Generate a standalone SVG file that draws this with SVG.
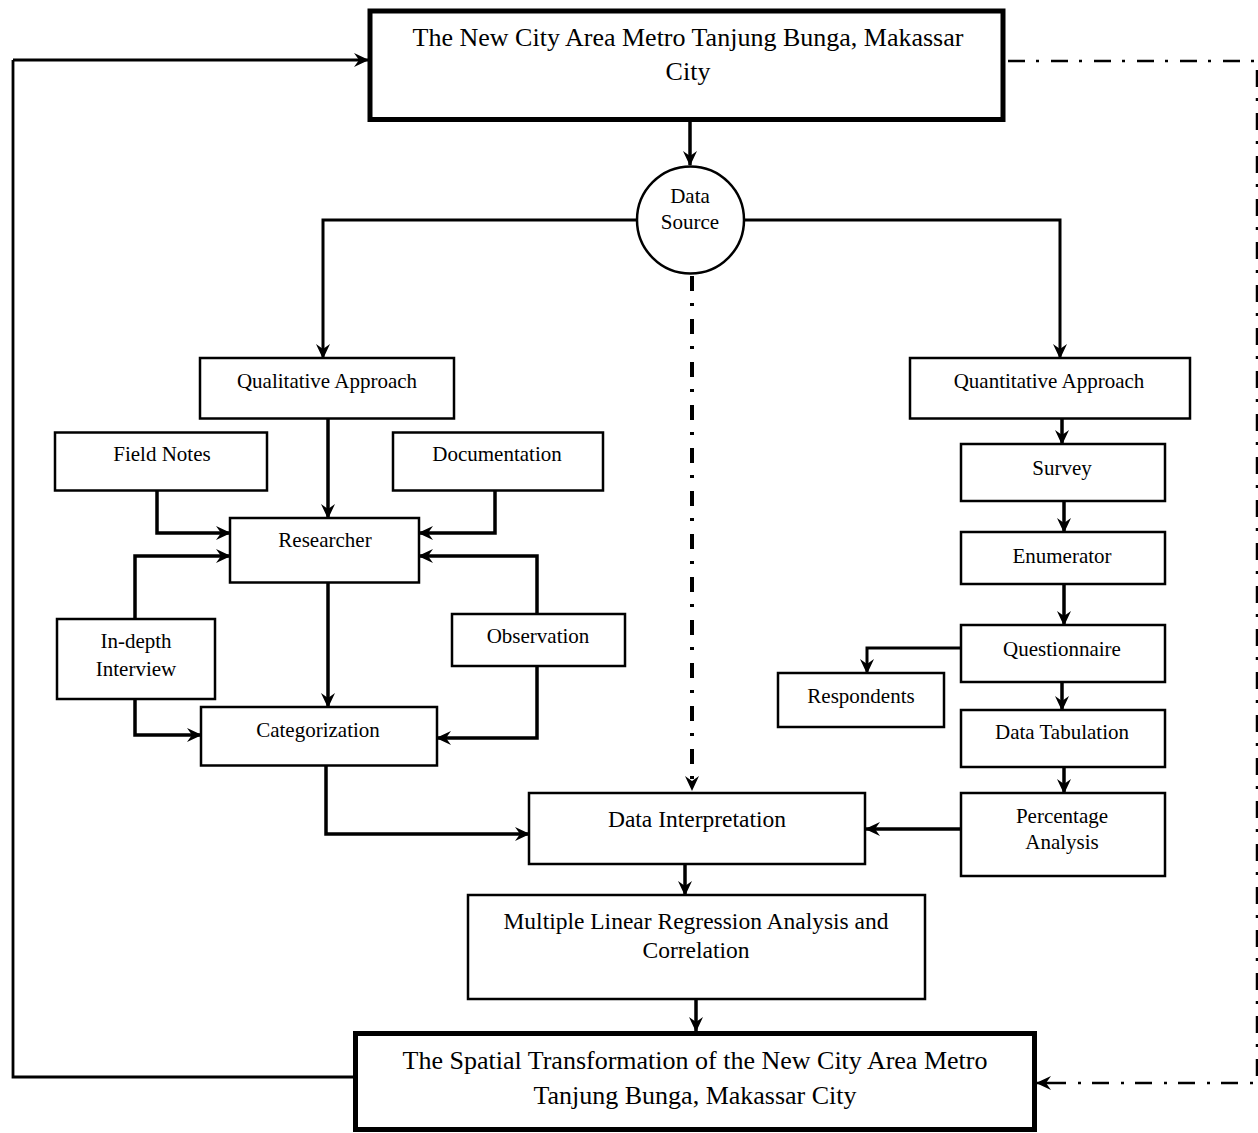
<svg xmlns="http://www.w3.org/2000/svg" width="1258" height="1133" viewBox="0 0 1258 1133">
<defs>
<marker id="arr" viewBox="0 0 15 14" refX="14" refY="7" markerWidth="15" markerHeight="14" markerUnits="userSpaceOnUse" orient="auto">
<path d="M0,0 L15,7 L0,14 L5,7 z" fill="#000"/>
</marker>
</defs>
<style>
.box{fill:#fff;stroke:#000;stroke-width:2.5}
.big{fill:#fff;stroke:#000;stroke-width:5}
.t{font-family:"Liberation Serif","Times New Roman",serif;font-size:21px;fill:#000;text-anchor:middle}
.tl{font-size:26px}
.tm{font-size:23.5px}
.c{fill:none;stroke:#000;stroke-width:3.5;marker-end:url(#arr)}
.loop{fill:none;stroke:#000;stroke-width:2.8}
.dd{fill:none;stroke:#000;stroke-width:2.5;stroke-dasharray:17 11 3 12}
.dm{fill:none;stroke:#000;stroke-width:4;stroke-dasharray:15 12 3 13;marker-end:url(#arr)}
</style>
<rect width="1258" height="1133" fill="#fff"/>
<g id="connectors">
<polyline class="loop" points="355,1077 13,1077 13,60"/>
<polyline class="c" style="stroke-width:3" points="13,60 368,60"/>
<polyline class="c" points="690,120 690,165"/>
<polyline class="c" style="stroke-width:3" points="637,220 323,220 323,358"/>
<polyline class="c" style="stroke-width:3" points="744,220 1060,220 1060,358"/>
<polyline class="dm" points="692,276 692,790"/>
<polyline class="c" points="328,419 328,518"/>
<polyline class="c" points="157,491 157,533 230,533"/>
<polyline class="c" points="495,491 495,533 419,533"/>
<polyline class="c" points="135,619 135,556 230,556"/>
<polyline class="c" points="537,614 537,556 419,556"/>
<polyline class="c" points="328,583 328,707"/>
<polyline class="c" points="135,699 135,735 201,735"/>
<polyline class="c" points="537,666 537,738 437,738"/>
<polyline class="c" points="326,766 326,834 529,834"/>
<polyline class="c" points="685,864 685,895"/>
<polyline class="c" points="696,999 696,1031"/>
<polyline class="c" points="1062,419 1062,444"/>
<polyline class="c" points="1064,501 1064,532"/>
<polyline class="c" points="1064,584 1064,625"/>
<polyline class="c" style="stroke-width:3" points="961,648 867,648 867,673"/>
<polyline class="c" points="1062,682 1062,710"/>
<polyline class="c" points="1064,767 1064,793"/>
<polyline class="c" points="961,829 866,829"/>
<polyline class="dd" points="1008,61 1257,61 1257,1083 1050,1083"/>
<polyline class="c" style="stroke-width:2.5" points="1050,1083 1037,1083"/>
</g>
<g id="n-top">
<rect class="big" x="370" y="11" width="633" height="108.5"/>
<text class="t tl" x="688" y="46">The New City Area Metro Tanjung Bunga, Makassar</text>
<text class="t tl" x="688" y="80">City</text>
</g>
<g id="n-source">
<circle cx="690.5" cy="220" r="53.5" fill="#fff" stroke="#000" stroke-width="2.5"/>
<text class="t" x="690" y="203">Data</text>
<text class="t" x="690" y="229">Source</text>
</g>
<g id="n-qual">
<rect class="box" x="200" y="358" width="254" height="60.5"/>
<text class="t" x="327" y="388">Qualitative Approach</text>
</g>
<g id="n-field">
<rect class="box" x="55" y="432.5" width="212" height="58"/>
<text class="t" x="162" y="461">Field Notes</text>
</g>
<g id="n-doc">
<rect class="box" x="393" y="432.5" width="210" height="58"/>
<text class="t" x="497" y="461">Documentation</text>
</g>
<g id="n-res">
<rect class="box" x="230" y="518" width="189" height="64.5"/>
<text class="t" x="325" y="547">Researcher</text>
</g>
<g id="n-indepth">
<rect class="box" x="57" y="619" width="158" height="80"/>
<text class="t" x="136" y="648">In-depth</text>
<text class="t" x="136" y="676">Interview</text>
</g>
<g id="n-obs">
<rect class="box" x="452" y="614" width="173" height="52"/>
<text class="t" x="538" y="643">Observation</text>
</g>
<g id="n-cat">
<rect class="box" x="201" y="707" width="236" height="58.5"/>
<text class="t" x="318" y="737">Categorization</text>
</g>
<g id="n-di">
<rect class="box" x="529" y="793" width="336" height="71"/>
<text class="t tm" x="697" y="827">Data Interpretation</text>
</g>
<g id="n-mlr">
<rect class="box" x="468" y="895" width="457" height="104"/>
<text class="t tm" x="696" y="929">Multiple Linear Regression Analysis and</text>
<text class="t tm" x="696" y="958">Correlation</text>
</g>
<g id="n-bottom">
<rect class="big" x="355.5" y="1033.5" width="679" height="96"/>
<text class="t tl" x="695" y="1069">The Spatial Transformation of the New City Area Metro</text>
<text class="t tl" x="695" y="1104">Tanjung Bunga, Makassar City</text>
</g>
<g id="n-quant">
<rect class="box" x="910" y="358" width="280" height="60.5"/>
<text class="t" x="1049" y="388">Quantitative Approach</text>
</g>
<g id="n-survey">
<rect class="box" x="961" y="444" width="204" height="57"/>
<text class="t" x="1062" y="475">Survey</text>
</g>
<g id="n-enum">
<rect class="box" x="961" y="532" width="204" height="52"/>
<text class="t" x="1062" y="563">Enumerator</text>
</g>
<g id="n-quest">
<rect class="box" x="961" y="625" width="204" height="57"/>
<text class="t" x="1062" y="656">Questionnaire</text>
</g>
<g id="n-resp">
<rect class="box" x="778" y="673" width="166" height="54"/>
<text class="t" x="861" y="703">Respondents</text>
</g>
<g id="n-tab">
<rect class="box" x="961" y="710" width="204" height="57"/>
<text class="t" x="1062" y="739">Data Tabulation</text>
</g>
<g id="n-perc">
<rect class="box" x="961" y="793" width="204" height="83"/>
<text class="t" x="1062" y="823">Percentage</text>
<text class="t" x="1062" y="849">Analysis</text>
</g>
</svg>
